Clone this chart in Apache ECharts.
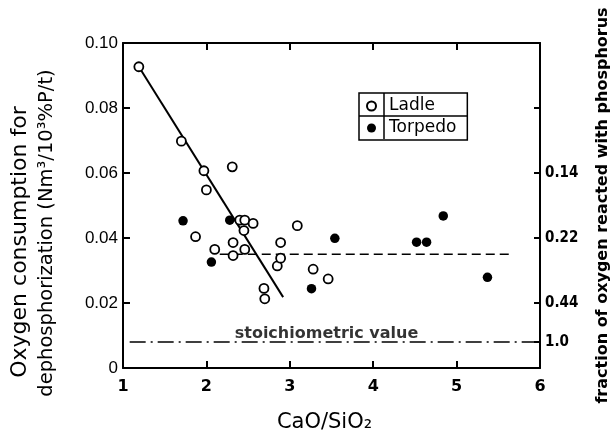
<!DOCTYPE html>
<html>
<head>
<meta charset="utf-8">
<script src="https://cdn.jsdelivr.net/npm/echarts@6/dist/echarts.min.js"></script>
<style>html,body{margin:0;padding:0;background:#fff;}#c{width:616px;height:436px;}</style>
</head>
<body>
<div id="c"></div>
<script>
// ---- data ----
const ladle = [
  [1.19, 0.0927], [1.70, 0.0698], [1.97, 0.0607], [2.31, 0.0619], [2.00, 0.0548],
  [1.87, 0.0404], [2.10, 0.0365], [2.40, 0.0455], [2.46, 0.0455], [2.45, 0.0423],
  [2.56, 0.0445], [2.32, 0.0386], [2.32, 0.0346], [2.46, 0.0365], [2.69, 0.0245],
  [2.70, 0.0213], [2.85, 0.0314], [2.89, 0.0338], [2.89, 0.0386], [3.09, 0.0438],
  [3.28, 0.0304], [3.46, 0.0274]
];
const torpedo = [
  [1.72, 0.0453], [2.28, 0.0455], [2.06, 0.0326], [3.26, 0.0244], [3.54, 0.0399],
  [4.52, 0.0387], [4.64, 0.0387], [4.84, 0.0468], [5.37, 0.0279]
];
const fitLine = [[1.19, 0.0927], [2.92, 0.0218]];
const averageLine = [[2.16, 0.035], [5.68, 0.035]];
const stoichLine = [[1.08, 0.008], [5.95, 0.008]];
const stoichLabelPoint = [[3.44, 0.008]];
const xTicks = [1, 2, 3, 4, 5, 6];
const leftTicks = [0, 0.02, 0.04, 0.06, 0.08, 0.10];
const rightTickValues = [0.08, 0.06, 0.04, 0.02, 0.008];
const rightLabelValues = [0.06, 0.04, 0.02, 0.008];
const rightLabelTexts = ['0.14', '0.22', '0.44', '1.0'];
const legendNames = ['Ladle', 'Torpedo'];
const titleLeft1 = 'Oxygen consumption for';
const titleLeft2 = 'dephosphorization (Nm³/10³%P/t)';
const titleRight = 'fraction of oxygen reacted with phosphorus';
const titleX = 'CaO/SiO₂';
const stoichText = 'stoichiometric value';

const INK = '#000';
const chart = echarts.init(document.getElementById('c'), null, {renderer: 'canvas'});
const option = {
  backgroundColor: '#fff',
  animation: false,
  grid: {left: 123, right: 76, top: 43, bottom: 68, show: false, containLabel: false, outerBoundsMode: 'none'},
  xAxis: [{
    type: 'value', min: 1, max: 6, interval: 1, position: 'bottom',
    axisLine: {show: true, onZero: false, lineStyle: {color: INK, width: 2}},
    axisTick: {show: true, inside: true, length: 7, lineStyle: {color: INK, width: 2}},
    axisLabel: {color: INK, fontFamily: 'DejaVu Sans', fontWeight: 'bold', fontSize: 16, margin: 11,
      formatter: v => xTicks.includes(v) ? String(v) : ''},
    splitLine: {show: false},
    name: titleX, nameLocation: 'middle', nameGap: 44,
    nameTextStyle: {color: INK, fontFamily: 'DejaVu Sans', fontSize: 21, padding: [0, 14, 0, 0]}
  }, {
    type: 'value', min: 1, max: 6, interval: 1, position: 'top',
    axisLine: {show: true, onZero: false, lineStyle: {color: INK, width: 2}},
    axisTick: {show: true, inside: true, length: 7, lineStyle: {color: INK, width: 2}},
    axisLabel: {show: false}, splitLine: {show: false}
  }],
  yAxis: [{
    type: 'value', min: 0, max: 0.1, interval: 0.02, position: 'left',
    axisLine: {show: true, onZero: false, lineStyle: {color: INK, width: 2}},
    axisTick: {show: true, inside: true, length: 7, lineStyle: {color: INK, width: 2}},
    axisLabel: {color: INK, fontFamily: 'Liberation Sans', fontSize: 17, margin: 5,
      formatter: v => { const t = leftTicks.find(x => Math.abs(x - v) < 1e-9); return t === 0 ? '0' : t.toFixed(2); }},
    splitLine: {show: false}
  }, {
    type: 'value', min: 0, max: 0.1, position: 'right',
    axisLine: {show: true, onZero: false, lineStyle: {color: INK, width: 2}},
    axisTick: {show: true, inside: true, length: 6, customValues: rightTickValues, lineStyle: {color: INK, width: 2}},
    axisLabel: {color: INK, fontFamily: 'DejaVu Sans Condensed', fontWeight: 'bold', fontSize: 15, margin: 5,
      customValues: rightLabelValues,
      formatter: v => { const i = rightLabelValues.findIndex(x => Math.abs(x - v) < 1e-9); return i >= 0 ? rightLabelTexts[i] : ''; }},
    splitLine: {show: false},
    name: titleRight, nameLocation: 'middle', nameRotate: 90, nameGap: 55,
    nameTextStyle: {color: INK, fontFamily: 'DejaVu Sans', fontWeight: 'bold', fontSize: 16}
  }],
  legend: {
    data: legendNames, orient: 'vertical', left: 359, top: 93,
    padding: [4, 11, 3, 7], itemGap: 4, itemWidth: 9, itemHeight: 9,
    borderColor: INK, borderWidth: 1.5, backgroundColor: '#fff',
    textStyle: {color: INK, fontFamily: 'DejaVu Sans', fontSize: 17, lineHeight: 18, padding: [0, 0, 0, 8]},
    selectedMode: false
  },
  graphic: [
    {type: 'text', x: 20, y: 242, rotation: Math.PI / 2,
      style: {text: titleLeft1, fill: INK, fontFamily: 'DejaVu Sans', fontSize: 22, align: 'center', verticalAlign: 'middle'}},
    {type: 'text', x: 47, y: 233, rotation: Math.PI / 2,
      style: {text: titleLeft2, fill: INK, fontFamily: 'DejaVu Sans', fontSize: 19.5, align: 'center', verticalAlign: 'middle'}},
    {type: 'line', shape: {x1: 384, y1: 93, x2: 384, y2: 139}, style: {stroke: INK, lineWidth: 1.5}, z: 100},
    {type: 'line', shape: {x1: 359, y1: 116, x2: 468, y2: 116}, style: {stroke: INK, lineWidth: 1.5}, z: 100}
  ],
  series: [
    {type: 'line', data: fitLine, symbol: 'none', lineStyle: {color: INK, width: 2}, silent: true, z: 1},
    {type: 'line', data: averageLine, symbol: 'none', lineStyle: {color: INK, width: 1.5, type: [9, 5]}, silent: true, z: 1},
    {type: 'line', data: stoichLine, symbol: 'none', lineStyle: {color: INK, width: 1.5, type: [16, 5, 2, 5]}, silent: true, z: 1},
    {type: 'scatter', data: stoichLabelPoint, symbolSize: 0, silent: true,
      label: {show: true, position: 'top', distance: 0, formatter: stoichText, color: INK, fontFamily: 'DejaVu Sans', fontWeight: 'bold', fontSize: 16}},
    {name: 'Ladle', type: 'scatter', data: ladle, symbol: 'circle', symbolSize: 9,
      itemStyle: {color: '#fff', borderColor: INK, borderWidth: 1.8, opacity: 1}, z: 3},
    {name: 'Torpedo', type: 'scatter', data: torpedo, symbol: 'circle', symbolSize: 9.5,
      itemStyle: {color: INK, borderColor: INK, borderWidth: 0, opacity: 1}, z: 3}
  ]
};
chart.setOption(option);
</script>
</body>
</html>
